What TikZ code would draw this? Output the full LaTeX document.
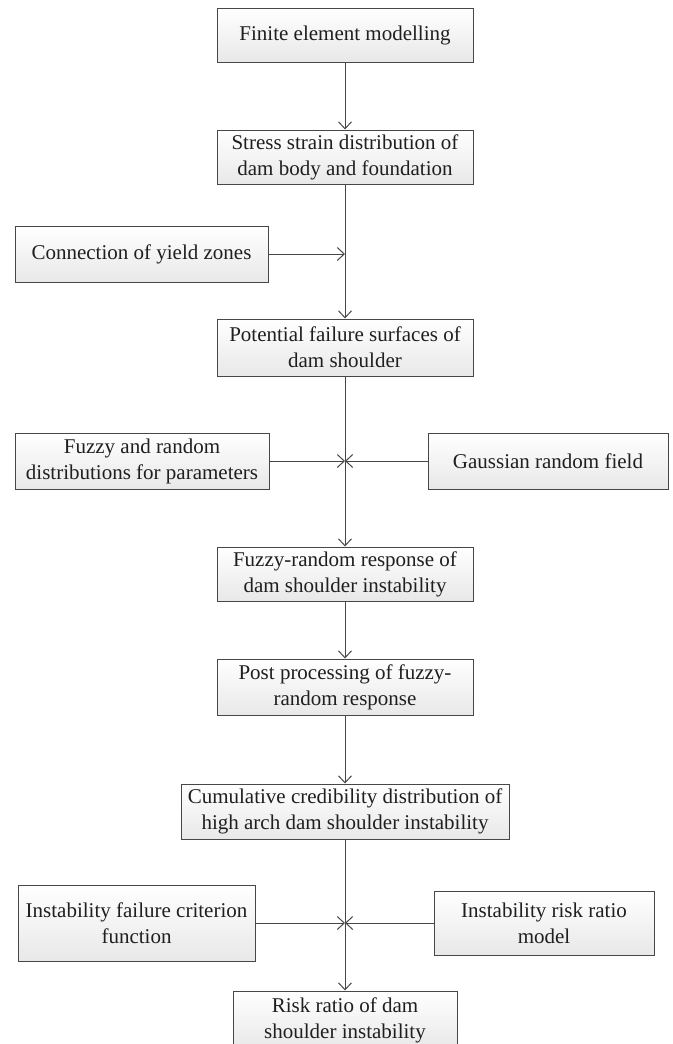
\documentclass[tikz,border=0pt]{standalone}
\usepackage{fontspec}
\setmainfont{Liberation Serif}
\usetikzlibrary{arrows.meta}
\tikzset{
  box/.style={draw=black!72, line width=1pt, top color=white, bottom color=black!9,
    align=center, inner sep=0pt, text=black!88,
    font=\fontsize{21}{26}\selectfont},
  link/.style={draw=black!72, line width=1pt}
}
\begin{document}
\begin{tikzpicture}[x=1pt, y=-1pt, >={Straight Barb[length=7pt,width=13pt]}]
        \useasboundingbox (0,0) rectangle (672,1044);
        \node[box, minimum width=256pt, minimum height=54pt] (fem) at (345, 35) {Finite element modelling};
        \node[box, minimum width=256pt, minimum height=54pt] (stress) at (345, 157) {Stress strain distribution of\\dam body and foundation};
        \node[box, minimum width=253pt, minimum height=56pt] (yield) at (141.5, 254) {Connection of yield zones};
        \node[box, minimum width=256pt, minimum height=57pt] (surf) at (345, 347.5) {Potential failure surfaces of\\dam shoulder};
        \node[box, minimum width=254pt, minimum height=56pt] (fuzzy) at (142, 461) {Fuzzy and random\\distributions for parameters};
        \node[box, minimum width=240pt, minimum height=56pt] (gauss) at (548, 461) {Gaussian random field};
        \node[box, minimum width=256pt, minimum height=54pt] (resp) at (345, 574) {Fuzzy-random response of\\dam shoulder instability};
        \node[box, minimum width=256pt, minimum height=56pt] (post) at (345, 687) {Post processing of fuzzy-\\random response};
        \node[box, minimum width=328pt, minimum height=55pt] (cum) at (345, 811.5) {Cumulative credibility distribution of\\high arch dam shoulder instability};
        \node[box, minimum width=237pt, minimum height=76pt] (crit) at (136.5, 923) {Instability failure criterion\\function};
        \node[box, minimum width=220pt, minimum height=64pt] (model) at (544, 923) {Instability risk ratio\\model};
        \node[box, minimum width=224pt, minimum height=58pt] (risk) at (345, 1020) {Risk ratio of dam\\shoulder instability};

        \coordinate (j1) at (345, 254);
        \coordinate (j2) at (345, 461);
        \coordinate (j3) at (345, 923);

        \draw[link, ->] (fem) -- (stress);
        \draw[link, ->] (stress) -- (surf);
        \draw[link, ->] (yield) -- (j1);
        \draw[link, ->] (surf) -- (resp);
        \draw[link, ->] (fuzzy) -- (j2);
        \draw[link, ->] (gauss) -- (j2);
        \draw[link, ->] (resp) -- (post);
        \draw[link, ->] (post) -- (cum);
        \draw[link, ->] (cum) -- (risk);
        \draw[link, ->] (crit) -- (j3);
        \draw[link, ->] (model) -- (j3);
    \end{tikzpicture}
\end{document}
